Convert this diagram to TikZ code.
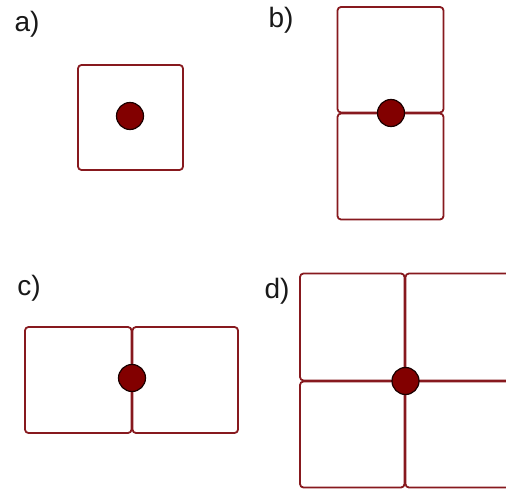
\documentclass[tikz,border=0pt]{standalone}
\usepackage{fontspec}
\setmainfont{Liberation Sans}
\definecolor{edgered}{RGB}{135,25,30}
\definecolor{dotred}{RGB}{130,0,0}
\begin{document}
\begin{tikzpicture}[x=1pt,y=-1pt,
  cell/.style={draw=edgered, line width=1.8pt, rounded corners=3.5pt, rectangle, inner sep=0pt},
  dot/.style={circle, fill=dotred, draw=black!80!dotred, line width=1.2pt, minimum size=27pt, inner sep=0pt},
  lab/.style={font=\fontsize{28}{32}\selectfont, inner sep=0pt, text=black!90}]
\clip (0,0) rectangle (506,489);
\fill[white] (0,0) rectangle (506,489);
% a)
\node[lab] (la) at (27,24) {a)};
\node[cell, minimum width=105pt, minimum height=105pt] (a1) at (130.5,117.5) {};
\node[dot] (da) at (130,116) {};
% b)
\node[lab] (lb) at (281,20) {b)};
\node[cell, minimum width=106pt, minimum height=105.5pt] (b1) at (390.5,59.75) {};
\node[cell, minimum width=106pt, minimum height=106pt] (b2) at (390.5,166.5) {};
\node[dot] (db) at (391,113) {};
% c)
\node[lab] (lc) at (29,288) {c)};
\node[cell, minimum width=106.5pt, minimum height=106pt] (c1) at (78.25,380) {};
\node[cell, minimum width=105.5pt, minimum height=106pt] (c2) at (185.25,380) {};
\node[dot] (dc) at (132,378) {};
% d)
\node[lab] (ld) at (277,291) {d)};
\node[cell, minimum width=104.5pt, minimum height=107pt] (d1) at (352.25,327) {};
\node[cell, minimum width=106.5pt, minimum height=107pt] (d2) at (458.75,327) {};
\node[cell, minimum width=104.5pt, minimum height=106pt] (d3) at (352.25,434.5) {};
\node[cell, minimum width=106.5pt, minimum height=106pt] (d4) at (458.75,434.5) {};
\node[dot] (dd) at (405.5,381) {};
\end{tikzpicture}
\end{document}
